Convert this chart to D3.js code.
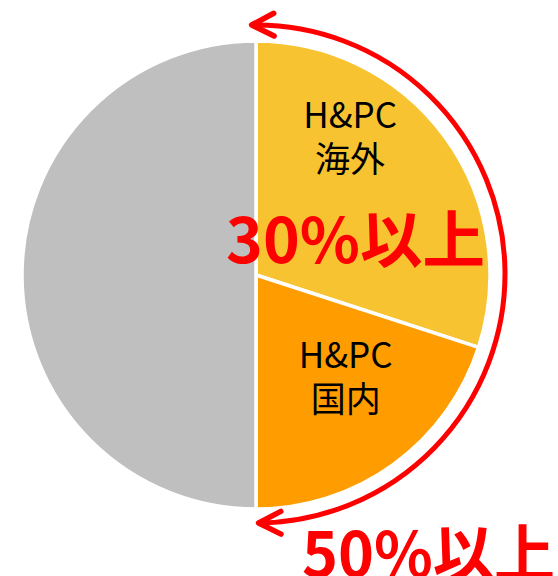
<!DOCTYPE html>
<html>
<head>
<meta charset="utf-8">
<script src="https://cdn.jsdelivr.net/npm/d3@7"></script>
<style>
  html, body { margin: 0; padding: 0; background: #fff; }
  svg { display: block; }
</style>
</head>
<body>
<div id="chart"></div>
<script>
// ===== data =====
const categories = ['H&PC\n海外', 'H&PC\n国内', 'その他'];
const values = [30, 20, 50];
const colors = ['#F8C331', '#FF9C00', '#BFBFBF'];
const showLabel = [true, true, false];
const calloutInner = '30%以上';
const calloutOuter = '50%以上';

const W = 558, H = 576;
const cx = 256, cy = 275, radius = 234;

const svg = d3.select('#chart').append('svg')
  .attr('width', W)
  .attr('height', H);

const g = svg.append('g').attr('transform', `translate(${cx},${cy})`);

const pie = d3.pie().sort(null).value(d => d.value);
const slices = pie(values.map((v, i) => ({ value: v, name: categories[i], color: colors[i], label: showLabel[i] })));

const arc = d3.arc().innerRadius(0).outerRadius(radius);

g.selectAll('path.slice')
  .data(slices)
  .join('path')
  .attr('class', 'slice')
  .attr('d', arc)
  .attr('fill', d => d.data.color)
  .attr('stroke', '#fff')
  .attr('stroke-width', 3.5)
  .attr('stroke-linejoin', 'miter');

// slice labels, two lines each (nudged from centroid like the original)
const labelArc = d3.arc().innerRadius(radius * 0.55).outerRadius(radius * 0.55);
const labelOffsets = [[-10, -49], [14, 11]];
g.selectAll('text.lbl')
  .data(slices.filter(d => d.data.label))
  .join('text')
  .attr('class', 'lbl')
  .attr('text-anchor', 'middle')
  .attr('font-family', '"Noto Sans CJK JP", "Noto Sans", sans-serif')
  .attr('font-size', 35)
  .attr('fill', '#000')
  .each(function(d, i) {
    const [x, y] = labelArc.centroid(d);
    const lines = d.data.name.split('\n');
    const t = d3.select(this);
    lines.forEach((s, j) => {
      t.append('tspan')
        .attr('x', x + labelOffsets[i][0])
        .attr('y', y + labelOffsets[i][1] + (j - 0.5) * 44)
        .text(s);
    });
  });

// ===== red callout arc with arrowheads =====
const arrowR = 249;
const arrowCy = 274;
const startA = -1 * Math.PI / 180;
const endA = 179.4 * Math.PI / 180;

const red = '#FF0000';
const ag = svg.append('g').attr('transform', `translate(${cx},${arrowCy})`);

const p = d3.path();
// d3.path arc measures from +x axis, pie angles from 12 o'clock
p.arc(0, 0, arrowR, startA - Math.PI / 2, endA - Math.PI / 2, false);
ag.append('path')
  .attr('d', p.toString())
  .attr('fill', 'none')
  .attr('stroke', red)
  .attr('stroke-width', 5);

function chevron(a, dir) {
  // tip on the circle, arms go back along the arc
  const tx = arrowR * Math.sin(a), ty = -arrowR * Math.cos(a);
  const ux = dir * Math.cos(a), uy = dir * Math.sin(a);
  const spread = 27 * Math.PI / 180, len = 25;
  const pts = [-spread, spread].map(s => {
    const rx = ux * Math.cos(s) - uy * Math.sin(s);
    const ry = ux * Math.sin(s) + uy * Math.cos(s);
    return [tx + rx * len, ty + ry * len];
  });
  return `M${pts[0][0]},${pts[0][1]}L${tx},${ty}L${pts[1][0]},${pts[1][1]}`;
}

ag.selectAll('path.head')
  .data([[startA, 1], [endA, -1]])
  .join('path')
  .attr('class', 'head')
  .attr('d', d => chevron(d[0], d[1]))
  .attr('fill', 'none')
  .attr('stroke', red)
  .attr('stroke-width', 5.5)
  .attr('stroke-linecap', 'round')
  .attr('stroke-linejoin', 'round');

// ===== callout texts =====
const callouts = [
  { text: calloutInner, x: 226, y: 263, len: 259 },
  { text: calloutOuter, x: 302, y: 577, len: 253 }
];
svg.selectAll('text.callout')
  .data(callouts)
  .join('text')
  .attr('class', 'callout')
  .attr('x', d => d.x)
  .attr('y', d => d.y)
  .attr('textLength', d => d.len)
  .attr('lengthAdjust', 'spacingAndGlyphs')
  .attr('font-family', '"Noto Sans CJK JP", "Noto Sans", sans-serif')
  .attr('font-weight', 'bold')
  .attr('font-size', 62)
  .attr('fill', red)
  .text(d => d.text);
</script>
</body>
</html>
